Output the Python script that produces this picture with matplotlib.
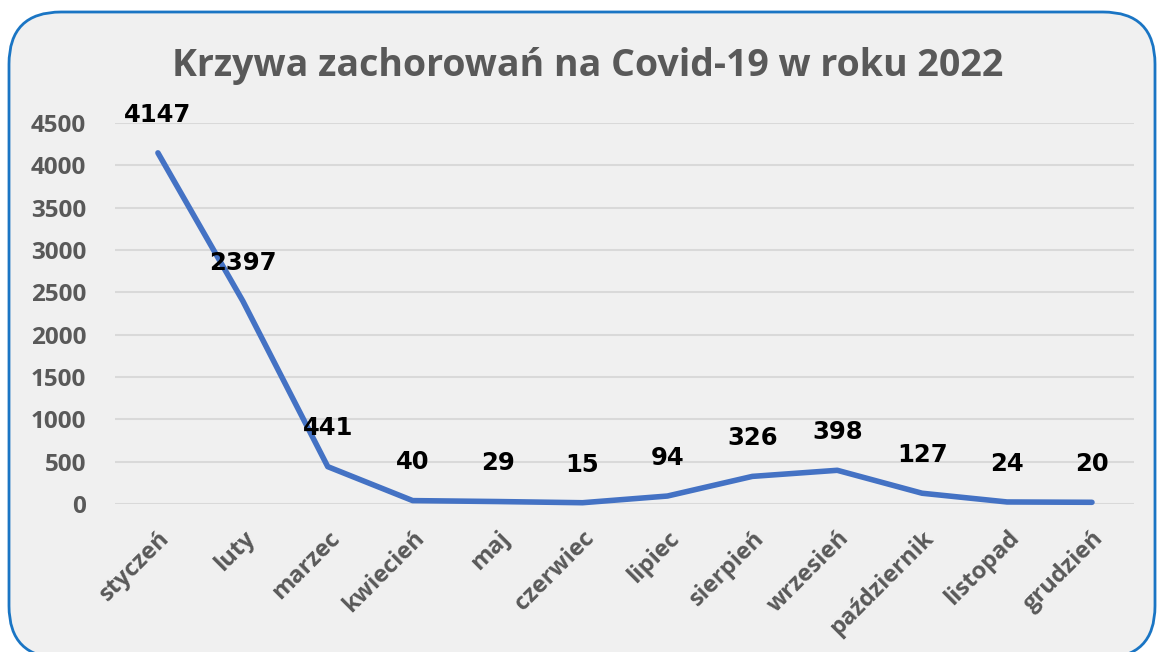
import matplotlib.pyplot as plt
from matplotlib.patches import FancyBboxPatch

months = ['styczeń', 'luty', 'marzec', 'kwiecień', 'maj', 'czerwiec', 'lipiec',
          'sierpień', 'wrzesień', 'październik', 'listopad', 'grudzień']
cases = [4147, 2397, 441, 40, 29, 15, 94, 326, 398, 127, 24, 20]
y_ticks = [0, 500, 1000, 1500, 2000, 2500, 3000, 3500, 4000, 4500]

plt.rcParams['font.family'] = ['Open Sans', 'DejaVu Sans']

fig = plt.figure(figsize=(11.57, 6.52), dpi=100)
fig.patch.set_facecolor('white')

# rounded frame behind everything (bottom edge runs off the image)
frame = FancyBboxPatch((9 / 1157, -6 / 652), 1146 / 1157, 646 / 652,
                       boxstyle='round,pad=0,rounding_size=0.045',
                       transform=fig.transFigure, facecolor='#f0f0f0',
                       edgecolor='#1a75c4', linewidth=2, zorder=-10,
                       mutation_aspect=1157 / 652)
fig.patches.append(frame)

ax = fig.add_axes([0.0998, 0.227, 0.8807, 0.5844])
ax.set_facecolor('none')

x = list(range(len(months)))
ax.plot(x, cases, color='#4472c4', linewidth=4, solid_joinstyle='round',
        solid_capstyle='round', clip_on=False, zorder=3)

for xi, v in zip(x, cases):
    ax.annotate(str(v), (xi, v), xytext=(0, 27.5), textcoords='offset points',
                ha='center', va='center', fontsize=17.5, fontweight='bold',
                family='DejaVu Sans', color='black', zorder=4)

ax.set_xlim(-0.5, len(months) - 0.5)
ax.set_ylim(0, 4500)
ax.set_yticks(y_ticks)
ax.set_xticks(x)
ax.set_xticklabels(months, rotation=45, ha='right', rotation_mode='anchor')
ax.tick_params(axis='y', length=0, labelsize=17.5, labelcolor='#595959', pad=21)
ax.tick_params(axis='x', length=0, labelsize=17, labelcolor='#595959', pad=16)
for lab in ax.get_xticklabels() + ax.get_yticklabels():
    lab.set_fontweight('bold')

ax.grid(axis='y', color='#d9d9d9', linewidth=1.5)
ax.set_axisbelow(True)
for s in ax.spines.values():
    s.set_visible(False)

fig.text(0.508, 0.899, 'Krzywa zachorowań na Covid-19 w roku 2022',
         ha='center', va='center', fontsize=27, fontweight='bold',
         color='#595959')

fig.savefig('out.png', dpi=100, facecolor=fig.get_facecolor())
